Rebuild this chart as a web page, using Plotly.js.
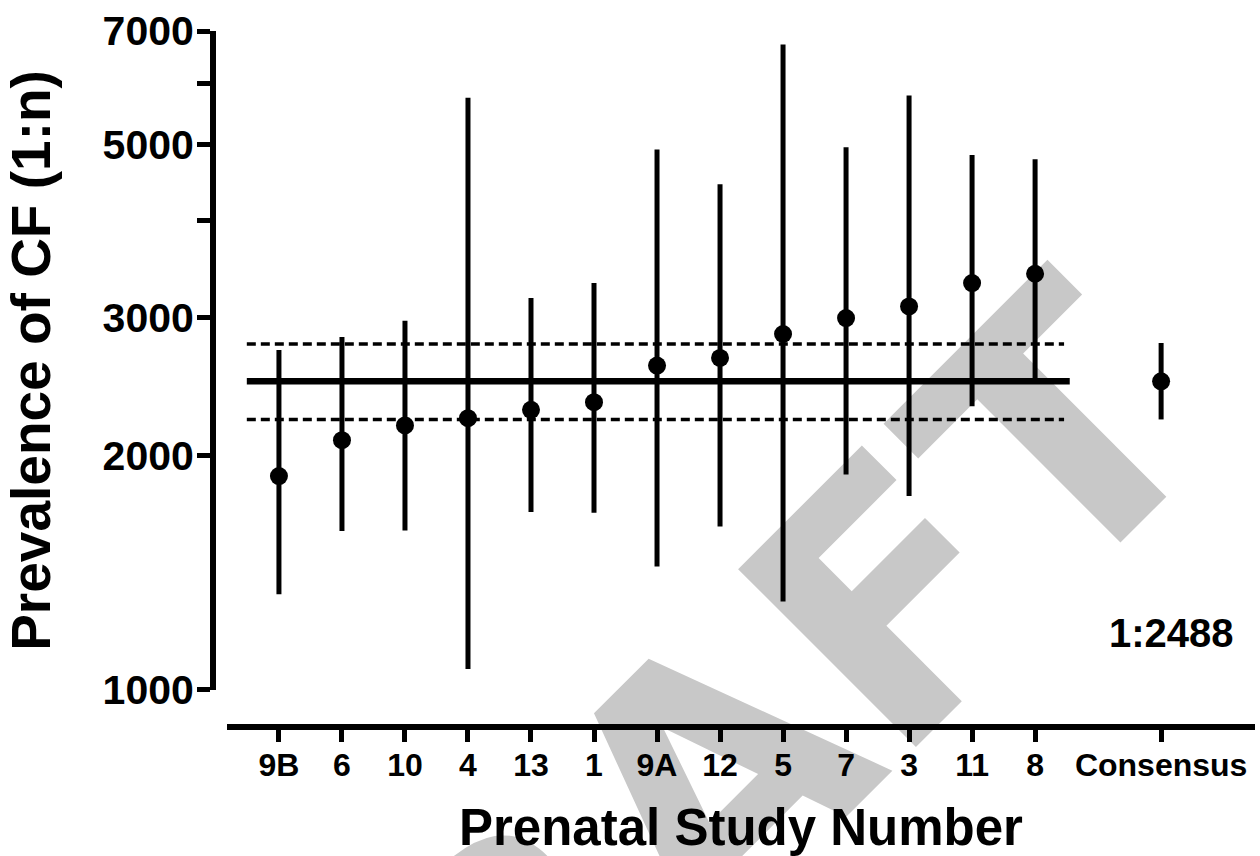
<!DOCTYPE html>
<html>
<head>
<meta charset="utf-8">
<script src="https://cdn.plot.ly/plotly-3.0.1.min.js"></script>
<style>
  html, body { margin: 0; padding: 0; background: #ffffff; }
  #wrap { position: relative; width: 1260px; height: 856px; overflow: hidden; }
  #watermark {
    position: absolute; left: 686px; top: 808px;
    transform: translate(-50%, -50%) rotate(-45deg);
    font-family: "DejaVu Sans", Verdana, sans-serif; font-weight: 700;
    font-size: 345px; line-height: 1; color: #c8c8c8; white-space: nowrap;
    z-index: 0; user-select: none;
  }
  #chart { position: absolute; left: 0; top: 0; width: 1260px; height: 856px; z-index: 1; }
</style>
</head>
<body>
<div id="wrap">
  <div id="watermark">DRAFT</div>
  <div id="chart"></div>
</div>
<script>
// ---- data ----
const studies    = ['9B', '6', '10', '4', '13', '1', '9A', '12', '5', '7', '3', '11', '8'];
const prevalence = [1881, 2091, 2184, 2231, 2287, 2339, 2606, 2666, 2861, 2999, 3104, 3325, 3418];
const ciUpper    = [2728, 2836, 2976, 5747, 3181, 3325, 4935, 4451, 6724, 4965, 5787, 4853, 4792];
const ciLower    = [1327, 1599, 1602, 1064, 1691, 1688, 1440, 1620, 1299, 1890, 1773, 2311, 2490];

const consensusLabel = 'Consensus';
const consensusValue = 2488;
const consensusUpper = 2786;
const consensusLower = 2223;

const pooledMean  = 2488;
const pooledUpper = 2777;
const pooledLower = 2222;

const yTickValues = [1000, 2000, 3000, 4000, 5000, 6000, 7000];
const yTickLabels = ['1000', '2000', '3000', '', '5000', '', '7000'];
const consensusText = '1:2488';

// ---- build ----
const FONT = '"Liberation Sans", Arial, Helvetica, sans-serif';
const xStudy = studies.map((_, i) => i);
const xCons = studies.length + 1;

const traces = [
  { x: [-0.51, 12.46], y: [pooledUpper, pooledUpper], mode: 'lines',
    line: { color: '#000', width: 3.5, dash: '9px,5px' } },
  { x: [-0.51, 12.46], y: [pooledLower, pooledLower], mode: 'lines',
    line: { color: '#000', width: 3.5, dash: '9px,5px' } },
  { x: [-0.51, 12.55], y: [pooledMean, pooledMean], mode: 'lines',
    line: { color: '#000', width: 6.5 } },
  { x: xStudy, y: prevalence, mode: 'markers', type: 'scatter',
    marker: { color: '#000', size: 18 },
    error_y: { type: 'data', symmetric: false,
      array: ciUpper.map((u, i) => u - prevalence[i]),
      arrayminus: ciLower.map((l, i) => prevalence[i] - l),
      color: '#000', thickness: 5, width: 0 } },
  { x: [xCons], y: [consensusValue], mode: 'markers', type: 'scatter',
    marker: { color: '#000', size: 18 },
    error_y: { type: 'data', symmetric: false,
      array: [consensusUpper - consensusValue],
      arrayminus: [consensusValue - consensusLower],
      color: '#000', thickness: 5, width: 0 } }
];

const layout = {
  width: 1260, height: 856,
  margin: { l: 213, r: 5, t: 31, b: 129 },
  paper_bgcolor: 'rgba(0,0,0,0)', plot_bgcolor: 'rgba(0,0,0,0)',
  showlegend: false, hovermode: false,
  font: { family: FONT, color: '#000' },
  xaxis: {
    domain: [0.0134, 1], anchor: 'free', position: 0,
    range: [-0.825, 15.49],
    tickvals: xStudy.concat([xCons]), ticktext: studies.concat([consensusLabel]),
    tickfont: { family: FONT, size: 32, weight: 700, color: '#000' },
    ticks: 'outside', ticklen: 12, tickwidth: 5, tickcolor: '#000',
    ticklabelstandoff: -4,
    showline: true, linewidth: 6, linecolor: '#000',
    showgrid: false, zeroline: false,
    title: { text: 'Prenatal Study Number', standoff: 33,
      font: { family: FONT, size: 51, weight: 700, color: '#000' } }
  },
  yaxis: {
    domain: [0.0532, 1], anchor: 'free', position: 0,
    type: 'log', range: [3, Math.log10(7000)],
    tickvals: yTickValues, ticktext: yTickLabels,
    tickfont: { family: FONT, size: 41, weight: 700, color: '#000' },
    ticks: 'outside', ticklen: 13, tickwidth: 5, tickcolor: '#000',
    ticklabelstandoff: -5,
    showline: true, linewidth: 6, linecolor: '#000',
    showgrid: false, zeroline: false,
    title: { text: 'Prevalence of CF (1:n)', standoff: 40,
      font: { family: FONT, size: 55, weight: 700, color: '#000' } }
  },
  annotations: [{
    text: consensusText, xref: 'paper', yref: 'paper', x: 0.920, y: 0.135,
    xanchor: 'center', yanchor: 'middle', showarrow: false,
    font: { family: FONT, size: 40, weight: 700, color: '#000' }
  }]
};

Plotly.newPlot('chart', traces, layout, { displayModeBar: false, staticPlot: true });
</script>
</body>
</html>
